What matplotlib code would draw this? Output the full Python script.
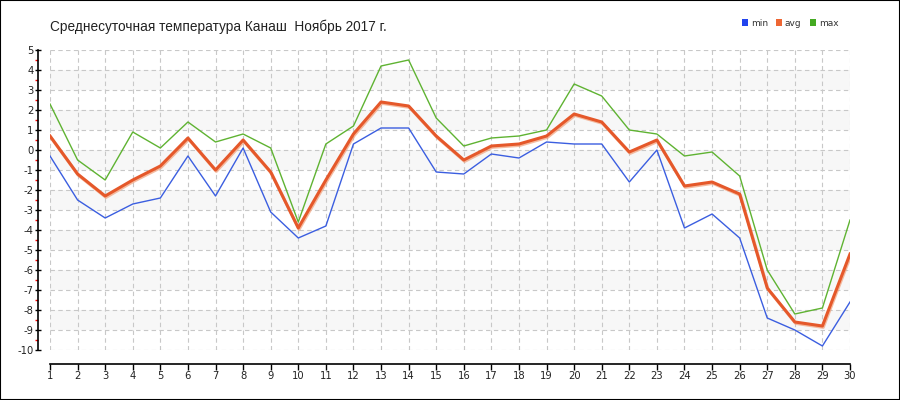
import matplotlib
matplotlib.use("Agg")
import matplotlib.pyplot as plt
import matplotlib.patheffects as pe
from matplotlib.patches import Rectangle, Patch
import numpy as np

plt.rcParams["axes.unicode_minus"] = False

days = list(range(1, 31))
t_min = [-0.3, -2.5, -3.4, -2.7, -2.4, -0.3, -2.3, 0.1, -3.1, -4.4,
         -3.8, 0.3, 1.1, 1.1, -1.1, -1.2, -0.2, -0.4, 0.4, 0.3,
         0.3, -1.6, 0.0, -3.9, -3.2, -4.4, -8.4, -9.0, -9.8, -7.6]
t_avg = [0.7, -1.2, -2.3, -1.5, -0.8, 0.6, -1.0, 0.5, -1.1, -3.9,
         -1.5, 0.8, 2.4, 2.2, 0.7, -0.5, 0.2, 0.3, 0.7, 1.8,
         1.4, -0.1, 0.5, -1.8, -1.6, -2.2, -6.9, -8.6, -8.8, -5.2]
t_max = [2.3, -0.5, -1.5, 0.9, 0.1, 1.4, 0.4, 0.8, 0.1, -3.6,
         0.3, 1.2, 4.2, 4.5, 1.6, 0.2, 0.6, 0.7, 1.0, 3.3,
         2.7, 1.0, 0.8, -0.3, -0.1, -1.3, -6.0, -8.2, -7.9, -3.5]
y_ticks = list(range(-10, 6))
title = "Среднесуточная температура Канаш  Ноябрь 2017 г."
series_names = ["min", "avg", "max"]

c_min = "#3b5ee0"
c_avg = "#e5582a"
c_max = "#5fb332"

fig = plt.figure(figsize=(9, 4), dpi=100)
ax = fig.add_axes([50/900, 50/400, 800/900, 300/400])

ax.set_xlim(1, 30)
ax.set_ylim(-10, 5)

# alternating bands
for lo in range(-9, 5, 2):
    ax.axhspan(lo, lo + 1, color="#f7f7f7", zorder=0, lw=0)

ax.set_xticks(days)
ax.set_yticks(y_ticks)
ax.set_yticks(np.arange(-9.5, 5, 1.0), minor=True)
ax.grid(True, which="major", color="#c8c8c8", linestyle=(0, (4, 3)), lw=0.8, zorder=1)

ax.plot(days, t_min, color=c_min, lw=1.0, zorder=3, label="min")
ax.plot(days, t_max, color=c_max, lw=1.0, zorder=3, label="max")
ax.plot(days, t_avg, color=c_avg, lw=2.2, zorder=4, label="avg",
        path_effects=[pe.SimpleLineShadow(offset=(0.6, -1.0), shadow_color="#f2a07a", alpha=0.7),
                      pe.Normal()])

for s in ["top", "right"]:
    ax.spines[s].set_visible(False)
ax.spines["left"].set_position(("outward", 9))
ax.spines["bottom"].set_position(("outward", 10))
ax.spines["left"].set_color("black")
ax.spines["bottom"].set_color("black")
ax.spines["left"].set_linewidth(1.2)
ax.spines["bottom"].set_linewidth(1.2)

ax.tick_params(axis="y", which="major", direction="inout", length=4, width=1,
               colors="black", labelsize=7.2, labelcolor="#222222", pad=1)
ax.tick_params(axis="y", which="minor", direction="out", length=2.5, width=1, colors="red")
ax.tick_params(axis="x", which="major", direction="out", length=4, width=1,
               colors="black", labelsize=7.2, labelcolor="#222222", pad=1)

fig.text(50/900, 1 - 27/400, title, fontsize=9.8, va="center", ha="left", color="#222222",
         family=["Liberation Sans", "DejaVu Sans"])

handles = [Patch(facecolor=c, edgecolor="none") for c in ["#2244ee", "#ee6633", "#44aa22"]]
leg = fig.legend(handles, series_names, loc="center right", bbox_to_anchor=(842/900, 1 - 23/400),
                 ncol=3, frameon=False, fontsize=6.5, handlelength=0.7, handleheight=0.7,
                 handletextpad=0.3, columnspacing=0.9, borderaxespad=0)
for t in leg.get_texts():
    t.set_color("#333333")

fig.patches.append(Rectangle((0, 0), 1, 1, transform=fig.transFigure, fill=False,
                             edgecolor="black", lw=1.5, zorder=10))

fig.savefig("out.png", dpi=100)
